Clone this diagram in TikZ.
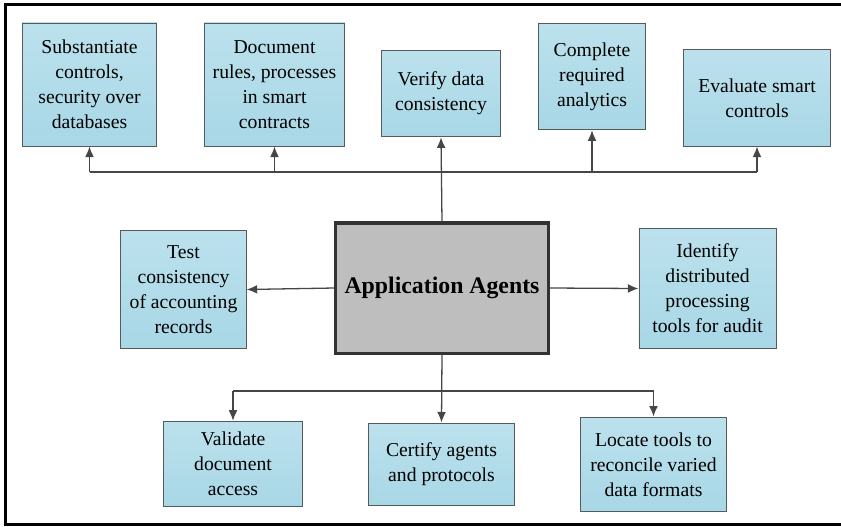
\documentclass[tikz,border=0pt]{standalone}
\usepackage{fontspec}
\setmainfont{LiberationSerif}[Extension=.ttf,UprightFont=*-Regular,BoldFont=*-Bold]
\usetikzlibrary{arrows.meta}
\definecolor{boxblue}{RGB}{168,215,230}
\definecolor{boxbluetop}{RGB}{188,225,237}
\definecolor{boxedge}{RGB}{85,90,95}
\definecolor{agentgray}{RGB}{190,190,190}
\definecolor{linkgray}{RGB}{70,70,70}
\begin{document}
\begin{tikzpicture}
      [x=0.03cm,y=-0.03cm,
       task/.style={draw=boxedge,thick,top color=boxbluetop,bottom color=boxblue,
                    align=center,inner sep=0pt,font=\fontsize{16.8}{21.3}\selectfont},
       agent/.style={draw=black!80,line width=2.6pt,fill=agentgray,
                     inner sep=0pt,font=\fontsize{20.3}{24}\selectfont\bfseries},
       link/.style={draw=linkgray,line width=1.1pt,-{Latex[length=9pt,width=7.5pt]}}]

\useasboundingbox (0,0) rectangle (841,526);

%frame
  \draw[line width=2.6pt] (841,4.5) -- (5.5,4.5) -- (5.5,524.5) -- (841,524.5);

%main node
  \node[agent,minimum width=181pt,minimum height=111pt] (agents) at (442,288) {Application Agents};

%top row
  \node[task,minimum width=115pt,minimum height=105pt] (subst) at (89.5,84.5) {Substantiate\\controls,\\security over\\databases};
  \node[task,minimum width=120pt,minimum height=105pt] (rules) at (274.5,84.5) {Document\\rules, processes\\in smart\\contracts};
  \node[task,minimum width=102pt,minimum height=74pt] (verify) at (441,93.5) {Verify data\\consistency};
  \node[task,minimum width=92pt,minimum height=91pt] (analytics) at (592,76.5) {Complete\\required\\analytics};
  \node[task,minimum width=125pt,minimum height=82pt] (evalu) at (757,98) {Evaluate smart\\controls};

%middle row
  \node[task,minimum width=107pt,minimum height=100pt] (test) at (183.5,289.5) {Test\\consistency\\of accounting\\records};
  \node[task,minimum width=117pt,minimum height=103pt] (identify) at (707.5,288.5) {Identify\\distributed\\processing\\tools for audit};

%bottom row
  \node[task,minimum width=119pt,minimum height=73pt] (validate) at (233,464) {Validate\\document\\access};
  \node[task,minimum width=125pt,minimum height=70pt] (certify) at (441.5,464) {Certify agents\\and protocols};
  \node[task,minimum width=125pt,minimum height=81pt] (locate) at (653.5,464.5) {Locate tools to\\reconcile varied\\data formats};

%connectors
  \coordinate (topbus) at (0,172);
  \coordinate (lowbus) at (0,391);

  \draw[link] (agents.north) -- (verify.south);
  \draw[link,-] (subst.south |- topbus) -- (evalu.south |- topbus);
  \foreach \t in {subst,rules,analytics,evalu}
    \draw[link] (\t.south |- topbus) -- (\t.south);

  \draw[link] (agents.west) -- (test.east);
  \draw[link] (agents.east) -- (identify.west);

  \draw[link] (agents.south) -- (certify.north);
  \draw[link,-] (validate.north |- lowbus) -- (locate.north |- lowbus);
  \foreach \t in {validate,locate}
    \draw[link] (\t.north |- lowbus) -- (\t.north);

\end{tikzpicture}
\end{document}
